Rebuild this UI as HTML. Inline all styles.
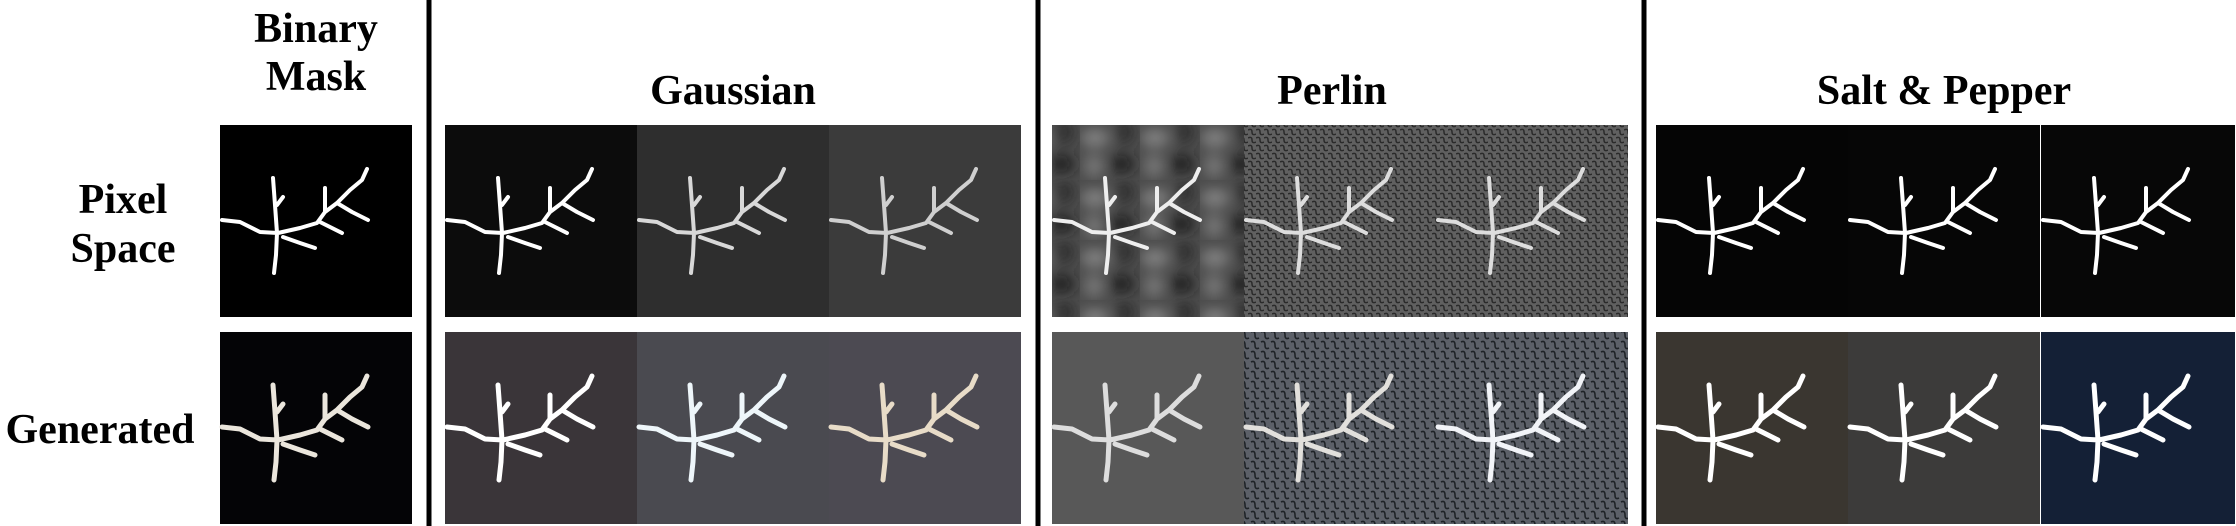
<!DOCTYPE html>
<html><head><meta charset="utf-8"><style>
html,body{margin:0;padding:0;background:#fff;}
svg{display:block}
text{font-family:"Liberation Serif",serif;font-weight:bold;fill:#000;}
</style></head><body>
<svg width="2236" height="526" viewBox="0 0 2236 526">
<defs>
<g id="branch" fill="none" stroke-linecap="round" stroke-linejoin="round">
<path d="M53 53 L55 80 L57 108 L56 130 L54 148 M57 80 L63 72 M2 95 L20 97 L40 107 L58 108 L80 103 L97 98 L105 87 L105 63 M105 87 L117 78 L130 65 L142 55 L147 44 M117 78 L132 87 L148 95 M100 97 L112 103 L122 108 M63 112 L80 118 L95 123"/>
</g>
<filter id="blur"><feGaussianBlur stdDeviation="7"/></filter>
<pattern id="perlinA" width="60" height="60" patternUnits="userSpaceOnUse"><rect width="60" height="60" fill="#4c4c4c"/><g filter="url(#blur)"><ellipse cx="15" cy="18" rx="14" ry="8" fill="#8a8a8a"/><ellipse cx="42" cy="44" rx="12" ry="9" fill="#1c1c1c"/><ellipse cx="45" cy="12" rx="8" ry="12" fill="#2a2a2a"/><ellipse cx="14" cy="46" rx="9" ry="12" fill="#7a7a7a"/></g></pattern>
<pattern id="perlinB" width="8" height="8" patternUnits="userSpaceOnUse"><rect width="8" height="8" fill="#606060"/><path d="M0 2 Q4 0 4 4 T8 6" stroke="#2a2a2a" stroke-width="1.5" fill="none"/></pattern>
<pattern id="perlinC" width="10" height="10" patternUnits="userSpaceOnUse"><rect width="10" height="10" fill="#5c6068"/><path d="M1 2 Q5 0 5 5 T9 8" stroke="#1e2226" stroke-width="1.6" fill="none"/></pattern>
</defs>

<line x1="429" y1="0" x2="429" y2="526" stroke="#000" stroke-width="5"/>
<line x1="1038" y1="0" x2="1038" y2="526" stroke="#000" stroke-width="5"/>
<line x1="1644" y1="0" x2="1644" y2="526" stroke="#000" stroke-width="5"/>

<text x="316" y="42" font-size="42" text-anchor="middle">Binary</text>
<text x="316" y="90" font-size="42" text-anchor="middle">Mask</text>
<text x="733" y="104" font-size="42" text-anchor="middle">Gaussian</text>
<text x="1332" y="104" font-size="42" text-anchor="middle">Perlin</text>
<text x="1944" y="104" font-size="42" text-anchor="middle">Salt &amp; Pepper</text>
<text x="123" y="213" font-size="42" text-anchor="middle">Pixel</text>
<text x="123" y="262" font-size="42" text-anchor="middle">Space</text>
<text x="100" y="443" font-size="42" text-anchor="middle">Generated</text>

<g id="tiles"></g>
</svg>
<script>
const tileX = [220, 445, 637, 829, 1052, 1244, 1436, 1656, 1848, 2041];
const rowY = [125, 332];
const row1Fill = ['#000', '#0c0c0c', '#2e2e2e', '#3b3b3b', 'url(#perlinA)', 'url(#perlinB)', 'url(#perlinB)', '#050505', '#060606', '#070707'];
const row2Fill = ['#040406', '#3a3539', '#4a4a50', '#4c4a52', '#585858', 'url(#perlinC)', 'url(#perlinC)', '#3a3630', '#3c3b3a', '#142036'];
const row1Stroke = ['#fff', '#fff', '#d8d8d8', '#cfcfcf', '#eee', '#ddd', '#ddd', '#fff', '#fff', '#fff'];
const row2Stroke = ['#ebe6dc', '#fff', '#eef6fa', '#e8dcc8', '#ddd', '#e2e0dc', '#f2f4f8', '#fff', '#fff', '#fff'];
const g = document.getElementById('tiles');
const NS = 'http://www.w3.org/2000/svg';
[row1Fill, row2Fill].forEach((fills, r) => {
  const strokes = r === 0 ? row1Stroke : row2Stroke;
  tileX.forEach((x, i) => {
    const rect = document.createElementNS(NS, 'rect');
    rect.setAttribute('x', x); rect.setAttribute('y', rowY[r]);
    rect.setAttribute('width', i === 9 ? 194 : 192); rect.setAttribute('height', 192);
    rect.setAttribute('fill', fills[i]);
    
    
    g.appendChild(rect);
    const u = document.createElementNS(NS, 'use');
    u.setAttribute('href', '#branch');
    u.setAttribute('transform', `translate(${x},${rowY[r]})`);
    u.setAttribute('stroke', strokes[i]);
    u.setAttribute('stroke-width', r === 0 ? 4 : 5);
    
    
    g.appendChild(u);
  });
});
</script>
</body></html>
